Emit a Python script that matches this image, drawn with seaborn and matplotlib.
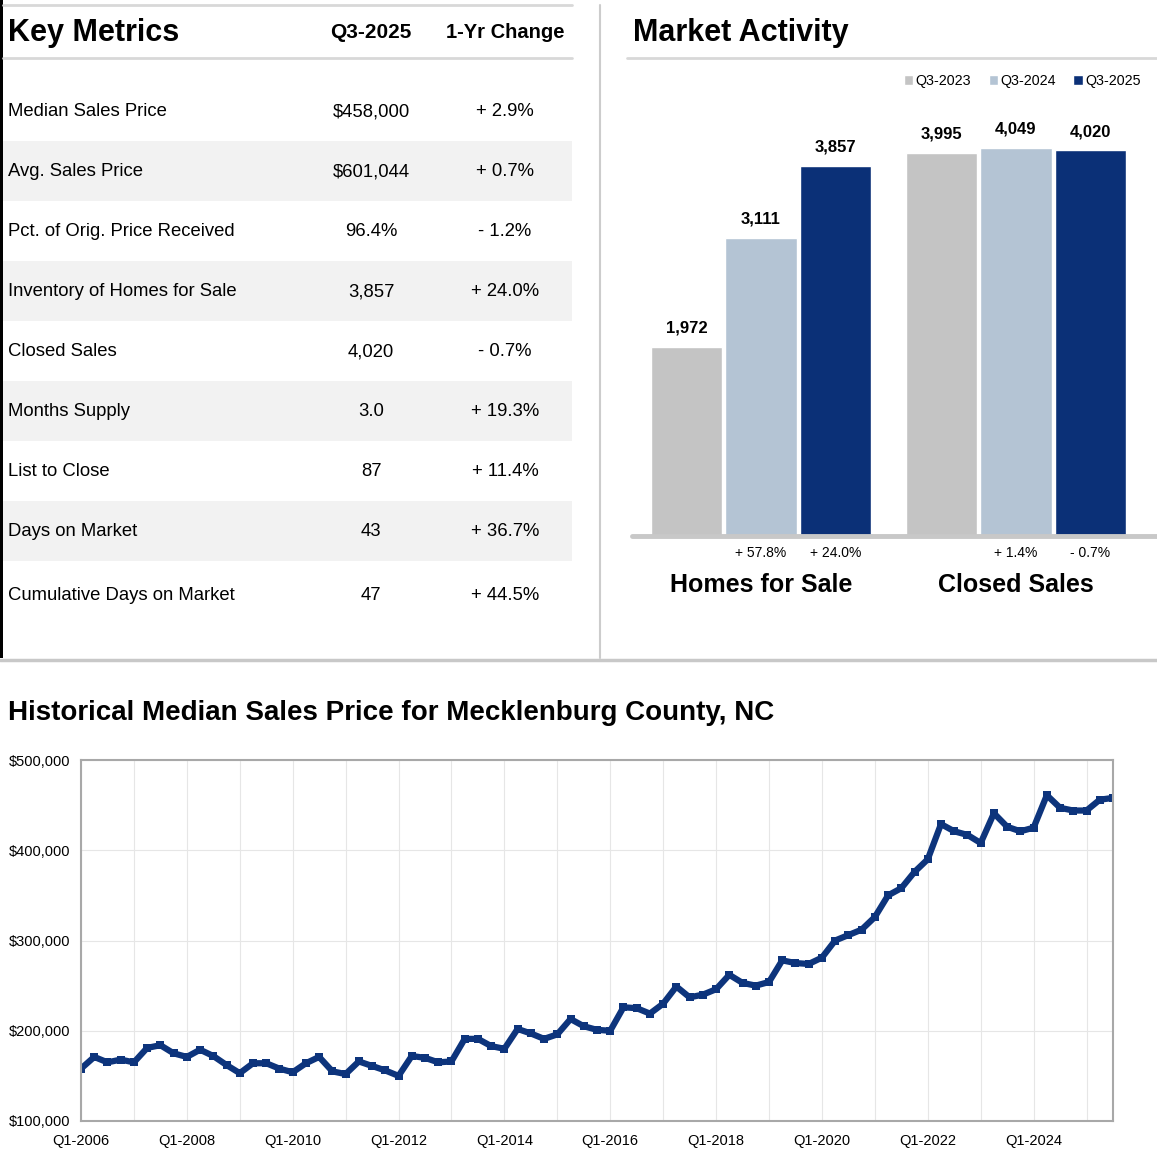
import numpy as np
import pandas as pd
import matplotlib
matplotlib.use("Agg")
import matplotlib.pyplot as plt
from matplotlib.patches import Rectangle
import seaborn as sns

# ---- data ----
metric_names = ["Median Sales Price", "Avg. Sales Price", "Pct. of Orig. Price Received",
                "Inventory of Homes for Sale", "Closed Sales", "Months Supply",
                "List to Close", "Days on Market", "Cumulative Days on Market"]
metric_values = ["$458,000", "$601,044", "96.4%", "3,857", "4,020", "3.0", "87", "43", "47"]
metric_changes = ["+ 2.9%", "+ 0.7%", "- 1.2%", "+ 24.0%", "- 0.7%", "+ 19.3%",
                  "+ 11.4%", "+ 36.7%", "+ 44.5%"]

activity_groups = ["Homes for Sale", "Closed Sales"]
activity_periods = ["Q3-2023", "Q3-2024", "Q3-2025"]
homes_for_sale = [1972, 3111, 3857]
closed_sales = [3995, 4049, 4020]
homes_change = ["", "+ 57.8%", "+ 24.0%"]
closed_change = ["", "+ 1.4%", "- 0.7%"]

years = list(range(2006, 2026))
median_price = [158, 171, 165, 168, 165, 181, 184, 175, 171, 179, 172, 162, 153,
                164, 164, 158, 154, 164, 171, 155, 152, 166, 161, 156, 150, 172, 170,
                165, 166, 191, 191, 183, 180, 202, 197, 191, 196, 213, 205, 201, 200,
                226, 225, 219, 230, 249, 237, 240, 246, 262, 253, 250, 254, 278, 275, 274, 281,
                300, 306, 312, 326, 350, 358, 376, 390, 429, 421, 417, 408,
                441, 426, 421, 425, 461, 447, 444, 444, 456, 458]

# ---- style ----
sns.set_style("white")
plt.rcParams['font.family'] = ['Liberation Sans', 'DejaVu Sans']
plt.rcParams['text.color'] = 'black'
plt.rcParams['xtick.color'] = 'black'
plt.rcParams['ytick.color'] = 'black'
TITLE = ['Liberation Sans', 'DejaVu Sans']
NAVY = '#0b3077'
colors = ['#c4c4c4', '#b4c4d4', NAVY]
LINEGRAY = '#d8d8d8'

W, H = 1157, 1155
fig = plt.figure(figsize=(W / 100, H / 100), dpi=100)


def axes_px(x0, y0, x1, y1, **kw):
    return fig.add_axes([x0 / W, 1 - y1 / H, (x1 - x0) / W, (y1 - y0) / H], **kw)


# background layer in pixel coordinates
bg = fig.add_axes([0, 0, 1, 1], zorder=0)
bg.set_xlim(0, W)
bg.set_ylim(H, 0)
bg.axis('off')

bg.add_patch(Rectangle((0, 0), 3, 658, color='black', lw=0))
bg.plot([3, 572], [5, 5], color=LINEGRAY, lw=2)
bg.plot([3, 572], [58, 58], color=LINEGRAY, lw=2)
bg.plot([627, 1157], [58, 58], color=LINEGRAY, lw=2)
bg.plot([600, 600], [5, 658], color='#cccccc', lw=1.5)
bg.plot([0, W], [660, 660], color='#c8c8c8', lw=2.5)

# ---- key metrics table ----
bg.text(8, 33, "Key Metrics", fontsize=22, fontweight='bold', family=TITLE, va='center')
bg.text(371, 33, "Q3-2025", fontsize=15, fontweight='bold', family=TITLE, va='center', ha='center')
bg.text(505, 33, "1-Yr Change", fontsize=14.5, fontweight='bold', family=TITLE, va='center', ha='center')

for i, (name, val, chg) in enumerate(zip(metric_names, metric_values, metric_changes)):
    y = 111 + 60 * i + (4 if i == len(metric_names) - 1 else 0)
    if i % 2 == 1:
        bg.add_patch(Rectangle((3, y - 30), 569, 60, color='#f2f2f2', lw=0))
    bg.text(8, y + 1, name, fontsize=13.3, va='center')
    bg.text(371, y + 1, val, fontsize=13.3, va='center', ha='center')
    bg.text(505, y + 1, chg, fontsize=13.3, va='center', ha='center')

# ---- market activity bars ----
bg.text(633, 33, "Market Activity", fontsize=22, fontweight='bold', family=TITLE, va='center')

bars = pd.DataFrame({
    'group': np.repeat(activity_groups, len(activity_periods)),
    'period': activity_periods * len(activity_groups),
    'value': homes_for_sale + closed_sales,
    'change': homes_change + closed_change,
})

ax_bar = axes_px(632, 100, 1157, 536, zorder=2)
sns.barplot(data=bars, x='group', y='value', hue='period', palette=colors,
            width=0.875, gap=0.04, saturation=1, ax=ax_bar)
ax_bar.set_ylim(0, 4546)
ax_bar.set_xlim(-0.506, 1.553)
for s in ax_bar.spines.values():
    s.set_visible(False)
ax_bar.set_yticks([])
ax_bar.set_xlabel('')
ax_bar.set_ylabel('')
ax_bar.axhline(0, color='#c8c8c8', lw=3.5, zorder=5, clip_on=False)
ax_bar.tick_params(axis='x', length=0, pad=27)
for lab in ax_bar.get_xticklabels():
    lab.set_fontsize(18)
    lab.set_fontweight('bold')

for k, cont in enumerate(ax_bar.containers):
    ax_bar.bar_label(cont, fmt='{:,.0f}', padding=8, fontsize=12, fontweight='bold')
    for j, rect in enumerate(cont):
        txt = bars[(bars['period'] == activity_periods[k]) &
                   (bars['group'] == activity_groups[j])]['change'].iloc[0]
        if txt:
            ax_bar.annotate(txt, (rect.get_x() + rect.get_width() / 2, 0),
                            xytext=(0, -12), textcoords='offset points',
                            ha='center', va='center', fontsize=10)

sns.move_legend(ax_bar, 'center right', bbox_to_anchor=(1141 / W, 1 - 81 / H),
                bbox_transform=fig.transFigure, ncol=3, frameon=False, title=None,
                fontsize=10.3, handlelength=0.65, handleheight=0.65, handletextpad=0.2,
                columnspacing=1.2, borderpad=0, borderaxespad=0)

# ---- historical median price line ----
bg.text(8, 713, "Historical Median Sales Price for Mecklenburg County, NC",
        fontsize=20, fontweight='bold', family=TITLE, va='center')

quarters = [f"Q{q}-{y}" for y in years for q in range(1, 5)][:len(median_price)]
hist = pd.DataFrame({'idx': np.arange(len(median_price)),
                     'quarter': quarters,
                     'price': np.array(median_price) * 1000})

ax_line = axes_px(81, 760, 1113, 1121, zorder=2)
sns.lineplot(data=hist, x='idx', y='price', color='#0d347c', lw=4.5,
             marker='s', markersize=6, markeredgewidth=0, ax=ax_line)
ax_line.set_xlim(0, len(median_price) - 1)
ax_line.set_ylim(100000, 500000)
ax_line.set_yticks(range(100000, 500001, 100000))
ax_line.set_yticklabels([f"${v:,}" for v in range(100000, 500001, 100000)], fontsize=10.5)
ticks = list(range(0, len(median_price), 4))
ax_line.set_xticks(ticks)
ax_line.set_xticklabels([hist['quarter'][t] if t % 8 == 0 else '' for t in ticks], fontsize=10.5)
ax_line.grid(True, color='#e6e6e6', lw=0.8)
ax_line.set_axisbelow(True)
for s in ax_line.spines.values():
    s.set_color('#a8a8a8')
    s.set_linewidth(1.5)
ax_line.tick_params(axis='x', length=4, width=1.2, color='#a8a8a8', pad=5, labelcolor='black')
ax_line.tick_params(axis='y', length=4, width=1.2, color='#a8a8a8', pad=4, labelcolor='black')
ax_line.set_xlabel('')
ax_line.set_ylabel('')

fig.savefig('out.png', dpi=100)
